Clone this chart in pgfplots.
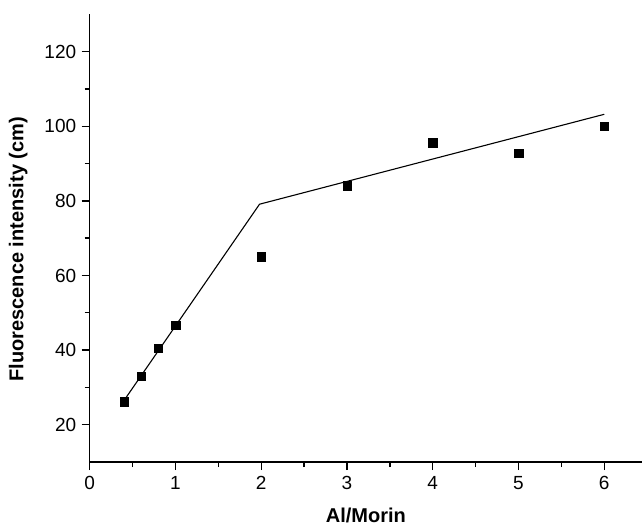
\documentclass[border=0pt]{standalone}
\usepackage{fontspec}
\setmainfont{Liberation Sans}
\usepackage{pgfplots}
\pgfplotsset{compat=1.18}
\begin{document}
\begin{tikzpicture}
\begin{axis}[
  name=ax,
  scale only axis,
  width=552bp, height=447.5bp,
  xmin=0, xmax=6.44, ymin=10, ymax=130,
  axis lines=left,
  axis line style={-, line width=1.4bp},
  xtick={0,1,2,3,4,5,6},
  ytick={20,40,60,80,100,120},
  minor x tick num=1,
  minor y tick num=1,
  tick align=outside,
  tick style={line width=1.4bp, black},
  major tick length=8bp,
  minor tick length=5bp,
  /pgf/number format/assume math mode=true,
  ticklabel style={font=\fontsize{19bp}{22bp}\selectfont},
  xticklabel style={yshift=-3bp},
  yticklabel style={xshift=-2bp},
  xlabel={\textbf{Al/Morin}},
  ylabel={\textbf{Fluorescence intensity (cm)}},
  label style={font=\fontsize{20bp}{24bp}\selectfont},
  xlabel style={at={(axis description cs:0.5,-0.136)}, anchor=base, inner sep=0pt},
  ylabel style={at={(axis description cs:-0.12,0.475)}, anchor=base},
  clip=false,
]
\addplot[black, line width=1.1bp] coordinates {(0.4,26.5) (1.98,79.1) (6,103.2)};
\addplot[only marks, mark=square*, mark size=4.3bp, black] coordinates {
(0.4,26.1) (0.6,33.0) (0.8,40.5) (1.0,46.7) (2,65.0) (3,84.0) (4,95.6) (5,92.8) (6,100.0)};
\end{axis}
\pgfresetboundingbox
\path ([shift={(-89.7bp,-65bp)}]ax.south west) rectangle ([shift={(0bp,14.3bp)}]ax.north east);
\end{tikzpicture}
\end{document}
